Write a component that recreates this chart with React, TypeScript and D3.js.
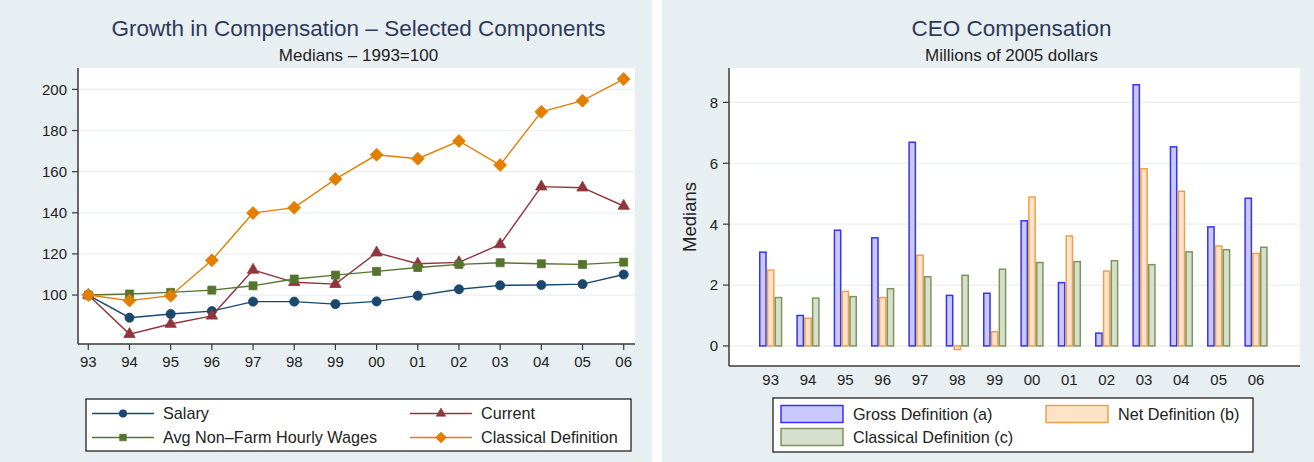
import React from "react";
import * as d3 from "d3";

// Year labels shared by both panels
const years = ["93", "94", "95", "96", "97", "98", "99", "00", "01", "02", "03", "04", "05", "06"];

// Left panel: index values (1993 = 100)
const salary = [100, 89, 90.8, 92.2, 96.8, 96.8, 95.6, 96.9, 99.7, 102.8, 104.7, 104.9, 105.3, 110];
const current = [100, 81, 85.9, 89.9, 112.2, 106.2, 105.3, 120.6, 115.2, 115.9, 124.6, 152.7, 152.2, 143.3];
const avgWages = [100, 100.5, 101.3, 102.4, 104.5, 107.8, 109.7, 111.5, 113.4, 114.9, 115.7, 115.2, 114.9, 116];
const classical = [100, 97.3, 99.7, 116.9, 139.9, 142.5, 156.4, 168.2, 166.3, 174.9, 163.2, 189.1, 194.5, 205];
const leftTicks = [100, 120, 140, 160, 180, 200];

// Right panel: medians, millions of 2005 dollars
const grossDef = [3.08, 1.0, 3.8, 3.55, 6.69, 1.66, 1.73, 4.11, 2.08, 0.42, 8.58, 6.54, 3.91, 4.85];
const netDef = [2.49, 0.91, 1.79, 1.59, 2.98, -0.12, 0.47, 4.89, 3.61, 2.46, 5.82, 5.08, 3.28, 3.04];
const classicalDef = [1.59, 1.57, 1.62, 1.88, 2.27, 2.32, 2.52, 2.74, 2.77, 2.8, 2.67, 3.09, 3.16, 3.24];
const rightTicks = [0, 2, 4, 6, 8];

const FONT = "'Liberation Sans', Arial, Helvetica, sans-serif";
const BG = "#e8eff3";
const TEXT = "#222";
const TITLE = "#2e3a5a";
const AXIS = "#3a3a3a";
const GRID = "#eaeff2";
const TICK_FS = 15;
const LEGEND_FS = 16.2;

// Diamond drawn as a square turned 45 degrees
const diamond: d3.SymbolType = {
  draw(ctx, size) {
    const h = Math.sqrt(size / 2);
    ctx.moveTo(0, -h);
    ctx.lineTo(h, 0);
    ctx.lineTo(0, h);
    ctx.lineTo(-h, 0);
    ctx.closePath();
  },
};

const lineSeries = [
  { name: "Salary", values: salary, color: "#1a476f", symbol: d3.symbolCircle, size: 66 },
  { name: "Current", values: current, color: "#90353b", symbol: d3.symbolTriangle, size: 56 },
  { name: "Avg Non\u2013Farm Hourly Wages", values: avgWages, color: "#55752f", symbol: d3.symbolSquare, size: 64 },
  { name: "Classical Definition", values: classical, color: "#e37e00", symbol: diamond, size: 84 },
];

const barSeries = [
  { key: "a", name: "Gross Definition (a)", values: grossDef, fill: "#c9c9fd", stroke: "#3434f2" },
  { key: "b", name: "Net Definition (b)", values: netDef, fill: "#fde3c7", stroke: "#eea04c" },
  { key: "c", name: "Classical Definition (c)", values: classicalDef, fill: "#d6e0cc", stroke: "#7d955f" },
];

function LeftPanel() {
  const L = 78, R = 635, T = 68, B = 344;
  const x = d3.scalePoint<string>().domain(years).range([88.3, 623.7]);
  const y = d3.scaleLinear().domain([76.2, 210.4]).range([B, T]);
  const line = d3
    .line<number>()
    .x((_, i) => x(years[i]) as number)
    .y((v) => y(v));
  const cx = (L + R) / 2;
  return (
    <g>
      <rect x={0} y={0} width={652} height={462} fill={BG} />
      <text x={cx + 2} y={36} textAnchor="middle" fontSize={22.5} fill={TITLE} fontFamily={FONT}>
        Growth in Compensation {"\u2013"} Selected Components
      </text>
      <text x={cx + 2} y={60.5} textAnchor="middle" fontSize={17} fill={TEXT} fontFamily={FONT}>
        Medians {"\u2013"} 1993=100
      </text>
      <rect x={L} y={T} width={R - L} height={B - T} fill="#fff" />
      {leftTicks.map((t) => (
        <line key={"g" + t} x1={L} x2={R} y1={y(t)} y2={y(t)} stroke={GRID} strokeWidth={1.2} />
      ))}
      {lineSeries.map((s) => (
        <g key={s.name}>
          <path d={line(s.values) as string} fill="none" stroke={s.color} strokeWidth={1.4} />
          {s.values.map((v, i) => (
            <path
              key={i}
              d={d3.symbol().type(s.symbol).size(s.size)() as string}
              transform={`translate(${x(years[i])},${y(v)})`}
              fill={s.color}
              stroke={s.color}
              strokeWidth={0.8}
            />
          ))}
        </g>
      ))}
      <line x1={L} x2={L} y1={T} y2={B} stroke={AXIS} strokeWidth={1.5} />
      <line x1={L} x2={R} y1={B} y2={B} stroke={AXIS} strokeWidth={1.5} />
      {leftTicks.map((t) => (
        <g key={"t" + t}>
          <line x1={L - 6} x2={L} y1={y(t)} y2={y(t)} stroke={AXIS} strokeWidth={1.2} />
          <text x={L - 11} y={y(t)} dy="0.36em" textAnchor="end" fontSize={TICK_FS} fill={TEXT} fontFamily={FONT}>
            {t}
          </text>
        </g>
      ))}
      {years.map((yr) => (
        <g key={"x" + yr}>
          <line x1={x(yr)} x2={x(yr)} y1={B} y2={B + 6} stroke={AXIS} strokeWidth={1.2} />
          <text x={x(yr)} y={B + 18} dy="0.36em" textAnchor="middle" fontSize={TICK_FS} fill={TEXT} fontFamily={FONT}>
            {yr}
          </text>
        </g>
      ))}
      {/* legend */}
      <rect x={86} y={399} width={545} height={52} fill="#fff" stroke="#222" strokeWidth={1.3} />
      {lineSeries.map((s, i) => {
        const col = i % 2;
        const row = Math.floor(i / 2);
        const lx = col === 0 ? 92 : 410;
        const ly = 413.5 + row * 24;
        return (
          <g key={"lg" + s.name}>
            <line x1={lx} x2={lx + 62} y1={ly} y2={ly} stroke={s.color} strokeWidth={1.4} />
            <path
              d={d3.symbol().type(s.symbol).size(s.size * 0.7)() as string}
              transform={`translate(${lx + 31},${ly})`}
              fill={s.color}
              stroke={s.color}
              strokeWidth={0.6}
            />
            <text x={lx + 71} y={ly} dy="0.36em" fontSize={LEGEND_FS} fill={TEXT} fontFamily={FONT}>
              {s.name}
            </text>
          </g>
        );
      })}
    </g>
  );
}

function RightPanel() {
  const L = 729, R = 1300, T = 68, B = 366;
  const x = d3.scaleBand<string>().domain(years).range([752, 1274.7]).paddingInner(0.375).paddingOuter(0.1875);
  const xs = d3.scaleBand<string>().domain(barSeries.map((s) => s.key)).range([0, x.bandwidth()]);
  const y = d3.scaleLinear().domain([-0.66, 9.13]).range([B, T]);
  const cx = (L + R) / 2;
  return (
    <g>
      <rect x={662} y={0} width={652} height={462} fill={BG} />
      <text x={cx - 3} y={36} textAnchor="middle" fontSize={22.5} fill={TITLE} fontFamily={FONT}>
        CEO Compensation
      </text>
      <text x={cx - 3} y={60.5} textAnchor="middle" fontSize={17} fill={TEXT} fontFamily={FONT}>
        Millions of 2005 dollars
      </text>
      <rect x={L} y={T} width={R - L} height={B - T} fill="#fff" />
      {rightTicks.map((t) => (
        <line key={"g" + t} x1={L} x2={R} y1={y(t)} y2={y(t)} stroke={GRID} strokeWidth={1.2} />
      ))}
      {barSeries.map((s) => (
        <g key={s.key}>
          {s.values.map((v, i) => {
            const bx = (x(years[i]) as number) + (xs(s.key) as number);
            const y0 = y(0);
            const yv = y(v);
            return (
              <rect
                key={i}
                x={bx + 0.75}
                y={Math.min(y0, yv)}
                width={xs.bandwidth() - 1.5}
                height={Math.abs(yv - y0)}
                fill={s.fill}
                stroke={s.stroke}
                strokeWidth={1.5}
              />
            );
          })}
        </g>
      ))}
      <line x1={L} x2={L} y1={T} y2={B} stroke={AXIS} strokeWidth={1.5} />
      <line x1={L} x2={R} y1={B} y2={B} stroke={AXIS} strokeWidth={1.5} />
      {rightTicks.map((t) => (
        <g key={"t" + t}>
          <line x1={L - 6} x2={L} y1={y(t)} y2={y(t)} stroke={AXIS} strokeWidth={1.2} />
          <text x={L - 11} y={y(t)} dy="0.36em" textAnchor="end" fontSize={TICK_FS} fill={TEXT} fontFamily={FONT}>
            {t}
          </text>
        </g>
      ))}
      <text
        transform={`translate(${689},${(T + B) / 2}) rotate(-90)`}
        textAnchor="middle"
        dy="0.36em"
        fontSize={18.5}
        fill={TEXT}
        fontFamily={FONT}
      >
        Medians
      </text>
      {years.map((yr) => (
        <text
          key={"x" + yr}
          x={(x(yr) as number) + x.bandwidth() / 2}
          y={380}
          dy="0.36em"
          textAnchor="middle"
          fontSize={TICK_FS}
          fill={TEXT}
          fontFamily={FONT}
        >
          {yr}
        </text>
      ))}
      {/* legend */}
      <rect x={773} y={398} width={480} height={54} fill="#fff" stroke="#222" strokeWidth={1.3} />
      {barSeries.map((s, i) => {
        const col = i % 2;
        const row = Math.floor(i / 2);
        const kx = col === 0 ? 781 : 1046;
        const ky = 405.5 + row * 23;
        return (
          <g key={"lg" + s.key}>
            <rect x={kx} y={ky} width={62} height={17} fill={s.fill} stroke={s.stroke} strokeWidth={1.5} />
            <text x={kx + 72} y={ky + 8.5} dy="0.36em" fontSize={LEGEND_FS} fill={TEXT} fontFamily={FONT}>
              {s.name}
            </text>
          </g>
        );
      })}
    </g>
  );
}

export default function App() {
  return (
    <svg
      width={1314}
      height={462}
      viewBox="0 0 1314 462"
      style={{ position: "absolute", left: 0, top: 0, display: "block" }}
    >
      <rect x={0} y={0} width={1314} height={462} fill="#fff" />
      <LeftPanel />
      <RightPanel />
    </svg>
  );
}
